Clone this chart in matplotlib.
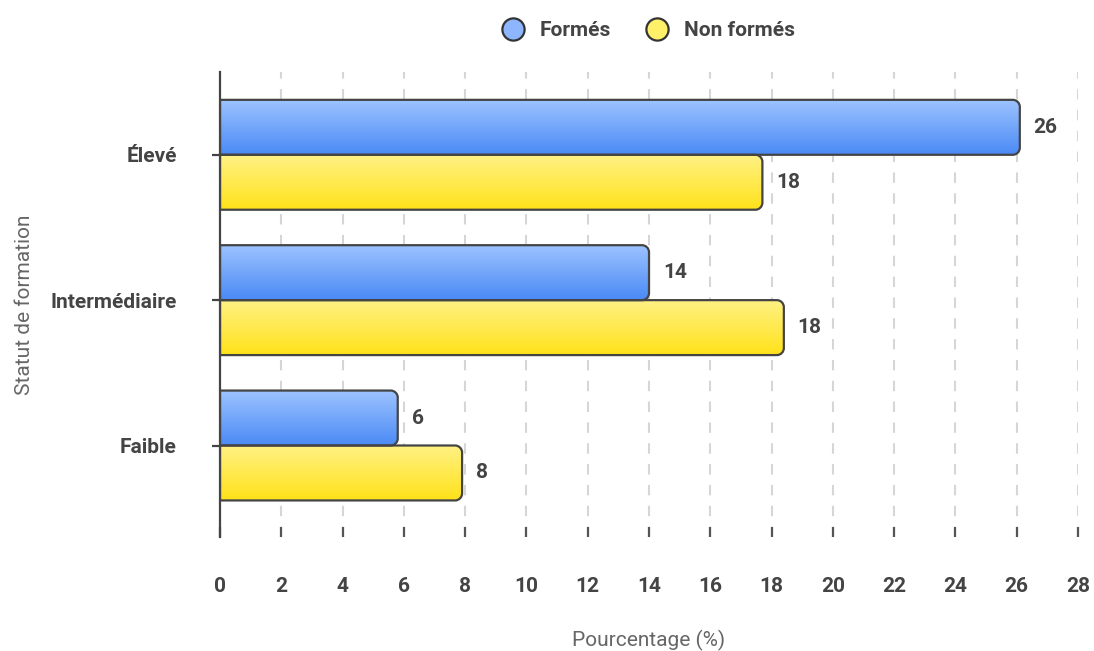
import numpy as np
import matplotlib
matplotlib.use("Agg")
import matplotlib.pyplot as plt
from matplotlib.path import Path
from matplotlib.patches import PathPatch
from matplotlib.lines import Line2D
from matplotlib.colors import to_rgb

plt.rcParams['font.family'] = ['Roboto', 'DejaVu Sans']

categories = ['Élevé', 'Intermédiaire', 'Faible']
formes = [26.1, 14.0, 5.8]
non_formes = [17.7, 18.4, 7.9]
series_names = ['Formés', 'Non formés']
xticks = list(range(0, 30, 2))

BLUE = ('#9cc2ff', '#4a8af5')
YELLOW = ('#fff184', '#ffe21a')
EDGE = '#444444'
TXT = '#444444'
FS = 15


def gradient(top, bottom, n=64):
    t = np.linspace(0, 1, n)[:, None, None]
    a = np.array(to_rgb(top))[None, None, :]
    b = np.array(to_rgb(bottom))[None, None, :]
    return np.repeat(a * (1 - t) + b * t, 2, axis=1)


def round_bar(ax, y0, h, w, colors, rpx=7):
    # corner radius in pixels -> data units on each axis
    bbox = ax.get_window_extent()
    x0l, x1l = ax.get_xlim()
    y0l, y1l = ax.get_ylim()
    rx = rpx * (x1l - x0l) / bbox.width
    ry = rpx * (y1l - y0l) / bbox.height
    rx = min(rx, w / 2)
    k = 0.5523
    x1 = w
    y1 = y0 + h
    verts = [
        (0, y0), (x1 - rx, y0),
        (x1 - rx + k * rx, y0), (x1, y0 + ry - k * ry), (x1, y0 + ry),
        (x1, y1 - ry),
        (x1, y1 - ry + k * ry), (x1 - rx + k * rx, y1), (x1 - rx, y1),
        (0, y1), (0, y0),
    ]
    codes = [Path.MOVETO, Path.LINETO,
             Path.CURVE4, Path.CURVE4, Path.CURVE4,
             Path.LINETO,
             Path.CURVE4, Path.CURVE4, Path.CURVE4,
             Path.LINETO, Path.CLOSEPOLY]
    patch = PathPatch(Path(verts, codes), facecolor='none', edgecolor=EDGE,
                      lw=1.6, zorder=3, joinstyle='round')
    ax.add_patch(patch)
    im = ax.imshow(gradient(*colors), extent=(0, w, y0, y1), origin='upper',
                   aspect='auto', interpolation='bilinear', zorder=2)
    im.set_clip_path(patch)


fig = plt.figure(figsize=(10.94, 6.51), dpi=100)
ax = fig.add_axes([0.2011, 0.175, 0.7843, 0.7145])

ypos = np.arange(len(categories))[::-1]  # Élevé on top
bh = 0.378
ax.set_xlim(0, 28)
ax.set_ylim(-0.63, 2.57)

for y, v1, v2 in zip(ypos, formes, non_formes):
    round_bar(ax, y, bh, v1, BLUE)
    round_bar(ax, y - bh, bh, v2, YELLOW)
    ax.annotate(f'{v1:.0f}', (v1, y + bh / 2), xytext=(10, 0),
                textcoords='offset points', ha='left', va='center',
                fontsize=FS, fontweight='bold', color=TXT)
    ax.annotate(f'{v2:.0f}', (v2, y - bh / 2), xytext=(10, 0),
                textcoords='offset points', ha='left', va='center',
                fontsize=FS, fontweight='bold', color=TXT)

ax.set_xlim(0, 28)
ax.set_ylim(-0.63, 2.57)

ax.set_xticks(xticks)
ax.set_yticks(ypos)
ax.set_yticklabels(categories)
for lab in ax.get_xticklabels() + ax.get_yticklabels():
    lab.set_fontweight('bold')
    lab.set_color(TXT)
    lab.set_fontsize(FS)

ax.tick_params(axis='x', direction='in', length=7, width=1.6, color='#555555', pad=29)
ax.tick_params(axis='y', direction='out', length=6, width=1.6, color=EDGE, pad=25)

ax.grid(axis='x', linestyle=(0, (5, 5)), color='#d6d6d6', lw=1.5, zorder=0)
ax.set_axisbelow(True)
for s in ['top', 'right', 'bottom']:
    ax.spines[s].set_visible(False)
ax.spines['left'].set_color(EDGE)
ax.spines['left'].set_linewidth(1.6)
ax.spines['left'].set_zorder(4)

ax.set_xlabel('Pourcentage (%)', fontsize=FS, color='#666666', labelpad=24)
ax.set_ylabel('Statut de formation', fontsize=FS, color='#666666', labelpad=12)

handles = [
    Line2D([], [], marker='o', ls='none', markersize=16, markerfacecolor='#8db6ff',
           markeredgecolor='#333333', markeredgewidth=1.6),
    Line2D([], [], marker='o', ls='none', markersize=16, markerfacecolor='#fff06a',
           markeredgecolor='#333333', markeredgewidth=1.6),
]
leg = fig.legend(handles, series_names, loc='center', bbox_to_anchor=(0.588, 0.953),
                 ncol=2, frameon=False, handletextpad=0.3, columnspacing=1.2,
                 prop={'weight': 'bold', 'size': FS})
for t in leg.get_texts():
    t.set_color(TXT)

fig.savefig('out.png', dpi=100, facecolor='white')
